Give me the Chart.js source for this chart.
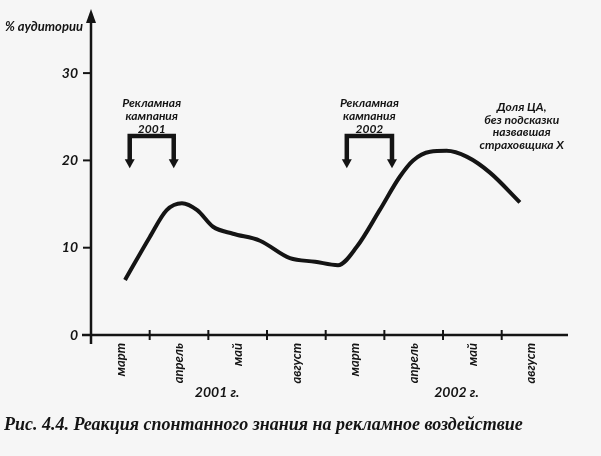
<!DOCTYPE html>
<html>
<head>
<meta charset="utf-8">
<script src="https://cdn.jsdelivr.net/npm/chart.js@4.4.1/dist/chart.umd.min.js"></script>
<style>
  html, body { margin: 0; padding: 0; background: #f6f6f6; }
  #wrap { width: 601px; height: 456px; }
</style>
</head>
<body>
<div id="wrap"><canvas id="chart" width="601" height="456"></canvas></div>
<script>
// months under the x axis (two seasons, 2001 and 2002)
let monthLabels = ['март', 'апрель', 'май', 'август', 'март', 'апрель', 'май', 'август']
let monthPos = [0.5, 1.5, 2.5, 3.5, 4.5, 5.5, 6.5, 7.5]
let monthBounds = [1, 2, 3, 4, 5, 6, 7]
let yearLabels = ['2001 г.', '2002 г.']
let yearPos = [2.15, 6.23]

let yTicks = [0, 10, 20, 30]

// the curve (x = months from the y axis, y = % of audience)
let curveX = [0.58, 1.0, 1.29, 1.55, 1.81, 2.08, 2.42, 2.88, 3.39, 3.82, 4.21, 4.53, 4.92, 5.26, 5.49, 5.78, 6.06, 6.41, 6.80, 7.31]
let curveY = [6.3, 11.2, 14.3, 15.1, 14.3, 12.4, 11.6, 10.8, 8.8, 8.4, 8.0, 10.1, 14.3, 18.1, 20.0, 21.0, 21.1, 20.4, 18.6, 15.2]

// ad campaigns (brackets with arrows)
let campText = [['Рекламная', 'кампания', '2001'], ['Рекламная', 'кампания', '2002']]
let campStart = [0.66, 4.36]
let campEnd = [1.41, 5.13]
let campTop = 22.8
let campTip = 19.1

let noteText = ['Доля ЦА,', 'без подсказки', 'назвавшая', 'страховщика Х']
let notePos = [7.34, 26.1]

let yTitle = '% аудитории'
let caption = 'Рис. 4.4. Реакция спонтанного знания на рекламное воздействие'

const ink = '#141414'
const labelFont = 'bold italic 12px Lato'

let drawing = {
    id: 'drawing',
    beforeDraw(chart) {
        let c = chart.ctx
        c.save()
        c.fillStyle = '#f6f6f6'
        c.fillRect(0, 0, chart.width, chart.height)
        c.restore()
    },
    afterDraw(chart) {
        let c = chart.ctx
        let xs = chart.scales.x
        let ys = chart.scales.y
        let area = chart.chartArea
        let x0 = xs.getPixelForValue(0)
        let y0 = ys.getPixelForValue(0)

        c.save()
        c.strokeStyle = ink
        c.fillStyle = ink
        c.lineCap = 'butt'

        // x axis
        c.lineWidth = 2.5
        c.beginPath()
        c.moveTo(x0 - 9, y0)
        c.lineTo(area.right, y0)
        c.stroke()

        // y axis with arrow
        c.beginPath()
        c.moveTo(x0, y0 + 9)
        c.lineTo(x0, area.top + 8)
        c.stroke()
        c.beginPath()
        c.moveTo(x0, area.top - 3)
        c.lineTo(x0 - 5, area.top + 11)
        c.lineTo(x0 + 5, area.top + 11)
        c.closePath()
        c.fill()

        // x ticks between months
        c.lineWidth = 2
        monthBounds.forEach(function (v) {
            let px = xs.getPixelForValue(v)
            c.beginPath()
            c.moveTo(px, y0 - 5)
            c.lineTo(px, y0 + 5)
            c.stroke()
        })
        // y ticks
        yTicks.forEach(function (v) {
            if (v === 0) return
            let py = ys.getPixelForValue(v)
            c.beginPath()
            c.moveTo(x0 - 8, py)
            c.lineTo(x0, py)
            c.stroke()
        })

        // campaign brackets
        campStart.forEach(function (s, i) {
            let a = xs.getPixelForValue(s)
            let b = xs.getPixelForValue(campEnd[i])
            let top = ys.getPixelForValue(campTop)
            let tip = ys.getPixelForValue(campTip)
            c.lineWidth = 4.5
            c.beginPath()
            c.moveTo(a, tip - 8)
            c.lineTo(a, top)
            c.lineTo(b, top)
            c.lineTo(b, tip - 8)
            c.stroke()
            ;[a, b].forEach(function (px) {
                c.beginPath()
                c.moveTo(px - 5, tip - 9)
                c.lineTo(px + 5, tip - 9)
                c.lineTo(px, tip)
                c.closePath()
                c.fill()
            })
            c.font = labelFont
            c.textAlign = 'center'
            c.textBaseline = 'middle'
            let mid = (a + b) / 2
            campText[i].forEach(function (t, k) {
                c.fillText(t, mid, top - 33 + k * 13)
            })
        })

        // note on the right
        c.font = labelFont
        c.textAlign = 'center'
        c.textBaseline = 'middle'
        let nx = xs.getPixelForValue(notePos[0])
        let ny = ys.getPixelForValue(notePos[1])
        noteText.forEach(function (t, k) {
            c.fillText(t, nx, ny + k * 12.7)
        })

        // axis title
        c.font = 'bold italic 13px Lato'
        c.textAlign = 'right'
        c.fillText(yTitle, x0 - 8, 27)

        // years
        c.font = 'bold italic 14px Lato'
        c.textAlign = 'center'
        yearLabels.forEach(function (t, i) {
            c.fillText(t, xs.getPixelForValue(yearPos[i]), y0 + 57)
        })

        // caption
        c.font = 'bold italic 18px "Liberation Serif"'
        c.textAlign = 'left'
        c.fillText(caption, 4, 425)
        c.restore()
    }
}

const ctx = document.getElementById('chart').getContext('2d')
let myChart = new Chart(ctx, {
    type: 'line',
    data: {
        datasets: [{
            label: '% аудитории',
            data: curveX.map(function (x, i) { return { x: x, y: curveY[i] } }),
            borderColor: ink,
            borderWidth: 4,
            cubicInterpolationMode: 'monotone',
            pointRadius: 0,
            fill: false
        }]
    },
    options: {
        responsive: false,
        animation: false,
        layout: { padding: { left: 0, right: 33, top: 12, bottom: 61 } },
        plugins: {
            legend: { display: false },
            tooltip: { enabled: false }
        },
        scales: {
            x: {
                type: 'linear',
                min: 0,
                max: 8.13,
                afterBuildTicks: function (s) { s.ticks = monthPos.map(function (v) { return { value: v } }) },
                afterFit: function (s) {
                    s.height = 60
                    s.paddingLeft = 0
                    s.paddingRight = 0
                },
                grid: { display: false, drawTicks: false },
                border: { display: false },
                ticks: {
                    autoSkip: false,
                    minRotation: 90,
                    maxRotation: 90,
                    padding: 8,
                    color: ink,
                    font: { family: 'Lato', size: 13, style: 'italic', weight: 'bold' },
                    callback: function (v, i) { return monthLabels[i] }
                }
            },
            y: {
                min: 0,
                max: 37,
                afterBuildTicks: function (s) { s.ticks = yTicks.map(function (v) { return { value: v } }) },
                afterFit: function (s) {
                    s.width = 91
                    s.paddingTop = 0
                    s.paddingBottom = 0
                },
                grid: { display: false, drawTicks: false },
                border: { display: false },
                ticks: {
                    padding: 13,
                    color: ink,
                    font: { family: 'Lato', size: 14, style: 'italic', weight: 'bold' }
                }
            }
        }
    },
    plugins: [drawing]
})
</script>
</body>
</html>
